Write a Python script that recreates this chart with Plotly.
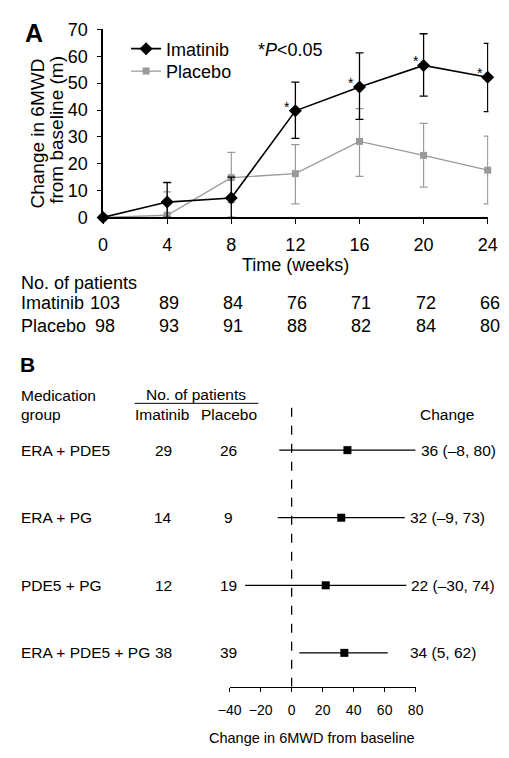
import plotly.graph_objects as go

# ---------------- Panel A data ----------------
weeks = [0, 4, 8, 12, 16, 20, 24]
imatinib_mean = [0, 5.7, 7.2, 39.7, 48.6, 56.6, 52.2]
imatinib_upper = [0, 13, 15, 50.4, 61.3, 68.4, 64.8]
imatinib_lower = [0, 0, 0, 29.4, 36.5, 45.2, 39.4]
placebo_mean = [0, 0.8, 14.8, 16.3, 28.3, 23.1, 17.6]
placebo_upper = [0, 9.5, 24.2, 27.1, 40.5, 35.0, 30.3]
placebo_lower = [0, 0, 5.5, 5.0, 15.3, 11.3, 5.0]
significant = [False, False, False, True, True, True, True]
imatinib_n = [103, 89, 84, 76, 71, 72, 66]
placebo_n = [98, 93, 91, 88, 82, 84, 80]
y_ticks = [0, 10, 20, 30, 40, 50, 60, 70]

# ---------------- Panel B data ----------------
groups = ["ERA + PDE5", "ERA + PG", "PDE5 + PG", "ERA + PDE5 + PG"]
n_imatinib = [29, 14, 12, 38]
n_placebo = [26, 9, 19, 39]
change = [36, 32, 22, 34]
ci_low = [-8, -9, -30, 5]
ci_high = [80, 73, 74, 62]
forest_ticks = [-40, -20, 0, 20, 40, 60, 80]

FONT = "Liberation Sans, Arial, Helvetica, sans-serif"
W, H = 509, 758
GRAY = "#9a9a9a"


def px_x(p):
    return p / W


def px_y(p):
    return 1 - p / H


def note(text, x, y, size, xref="paper", yref="paper", xanchor="center", **kw):
    d = dict(text=text, x=x, y=y, xref=xref, yref=yref, xanchor=xanchor, yanchor="middle",
             showarrow=False, font=dict(size=size, family=FONT, color="black"))
    d.update(kw)
    return d


fig = go.Figure()

# Panel A traces
fig.add_trace(go.Scatter(
    x=weeks, y=placebo_mean, name="Placebo", mode="lines+markers",
    line=dict(color=GRAY, width=1.3),
    marker=dict(symbol="square", size=7, color=GRAY),
    error_y=dict(type="data", symmetric=False,
                 array=[u - m for u, m in zip(placebo_upper, placebo_mean)],
                 arrayminus=[m - l for m, l in zip(placebo_mean, placebo_lower)],
                 color=GRAY, thickness=1.2, width=4),
    cliponaxis=False, xaxis="x", yaxis="y", legend="legend2",
))
fig.add_trace(go.Scatter(
    x=weeks, y=imatinib_mean, name="Imatinib", mode="lines+markers",
    line=dict(color="black", width=1.6),
    marker=dict(symbol="diamond", size=10, color="black"),
    error_y=dict(type="data", symmetric=False,
                 array=[u - m for u, m in zip(imatinib_upper, imatinib_mean)],
                 arrayminus=[m - l for m, l in zip(imatinib_mean, imatinib_lower)],
                 color="black", thickness=1.3, width=4),
    cliponaxis=False, xaxis="x", yaxis="y", legend="legend",
))

# Panel B forest
rows = list(range(len(groups), 0, -1))
fig.add_trace(go.Scatter(
    x=change, y=rows, mode="markers", showlegend=False,
    marker=dict(symbol="square", size=8, color="black"),
    error_x=dict(type="data", symmetric=False,
                 array=[h - c for h, c in zip(ci_high, change)],
                 arrayminus=[c - l for c, l in zip(change, ci_low)],
                 color="black", thickness=1.2, width=0),
    cliponaxis=False, xaxis="x2", yaxis="y2",
))

annotations = []
annotations.append(note("<b>A</b>", px_x(23), px_y(24), 25))
annotations.append(note("<b>B</b>", px_x(16), px_y(364), 21))
annotations.append(note("Change in 6MWD", px_x(27), px_y(127), 19, textangle=-90))
annotations.append(note("from baseline (m)", px_x(47), px_y(123), 19, textangle=-90))
annotations.append(note("*<i>P</i>&lt;0.05", px_x(255), px_y(41), 18, xanchor="left"))
annotations.append(note("Time (weeks)", 12, px_y(262), 18, xref="x"))
for w, m, s in zip(weeks, imatinib_mean, significant):
    if s:
        annotations.append(note("*", w, m, 14, xref="x", yref="y", xshift=-8, yshift=4))
annotations.append(note("No. of patients", px_x(7), px_y(280), 18, xanchor="left"))
annotations.append(note("Imatinib", px_x(7), px_y(301), 18, xanchor="left"))
annotations.append(note("Placebo", px_x(7), px_y(325), 18, xanchor="left"))
for w, a, b in zip(weeks, imatinib_n, placebo_n):
    annotations.append(note(str(a), w, px_y(301), 18, xref="x", xshift=2))
    annotations.append(note(str(b), w, px_y(325), 18, xref="x", xshift=2))

BF = 15.5
annotations.append(note("Medication", px_x(7), px_y(396), BF, xanchor="left"))
annotations.append(note("group", px_x(7), px_y(415), BF, xanchor="left"))
annotations.append(note("No. of patients", px_x(192), px_y(395), BF))
annotations.append(note("Imatinib", px_x(156), px_y(415), BF))
annotations.append(note("Placebo", px_x(226), px_y(415), BF))
annotations.append(note("Change", px_x(454), px_y(415), BF))
for r, g, ni, npl, c, lo, hi in zip(rows, groups, n_imatinib, n_placebo, change, ci_low, ci_high):
    annotations.append(note(g, px_x(7), r, BF, yref="y2", xanchor="left"))
    annotations.append(note(str(ni), px_x(158), r, BF, yref="y2"))
    annotations.append(note(str(npl), px_x(226), r, BF, yref="y2"))
    lab = f"{c} ({lo}, {hi})".replace("-", "\u2013")
    annotations.append(note(lab, max(hi, 73), r, BF, xref="x2", yref="y2", xanchor="left", xshift=3))
annotations.append(note("Change in 6MWD from baseline", px_x(313), px_y(748), 14.5))

shapes = [
    dict(type="line", xref="paper", yref="paper", x0=px_x(128), x1=px_x(257),
         y0=px_y(404), y1=px_y(404), line=dict(color="black", width=1)),
    dict(type="line", xref="x2", yref="y2", x0=0, x1=0, y0=0.5, y1=4.75,
         line=dict(color="black", width=1.3, dash="dash")),
]

legend_common = dict(xanchor="left", yanchor="middle", bgcolor="rgba(0,0,0,0)",
                     font=dict(size=18, family=FONT, color="black"), itemwidth=30)

fig.update_layout(
    width=W, height=H, autosize=False,
    margin=dict(l=0, r=0, t=0, b=0),
    paper_bgcolor="white", plot_bgcolor="white",
    font=dict(family=FONT, color="black", size=18),
    showlegend=True,
    legend=dict(x=px_x(119), y=px_y(40), **legend_common),
    legend2=dict(x=px_x(119), y=px_y(63), **legend_common),
    xaxis=dict(domain=[px_x(95), px_x(497)], range=[0, 24.05], tickvals=weeks,
               showgrid=False, zeroline=False, showline=True, linecolor="black", linewidth=1.5,
               ticks="outside", ticklen=5, tickwidth=1.3, tickcolor="black",
               tickfont=dict(size=18, family=FONT), ticklabelstandoff=5, anchor="y"),
    yaxis=dict(domain=[px_y(213), px_y(20)], range=[0, 70], tickvals=y_ticks,
               showgrid=False, zeroline=False, showline=True, linecolor="black", linewidth=1.5,
               ticks="outside", ticklen=4, tickwidth=1.3, tickcolor="black",
               tickfont=dict(size=18, family=FONT), ticklabelstandoff=6, anchor="x"),
    xaxis2=dict(domain=[px_x(227), px_x(421)], range=[-40, 80], tickvals=forest_ticks,
                showgrid=False, zeroline=False, showline=True, linecolor="black", linewidth=1.3,
                ticks="outside", ticklen=4, tickwidth=1.2, tickcolor="black",
                tickfont=dict(size=14, family=FONT), ticklabelstandoff=6, anchor="y2"),
    yaxis2=dict(domain=[px_y(695), px_y(400)], range=[0.5, 4.75], visible=False, anchor="x2"),
    annotations=annotations,
    shapes=shapes,
)

fig.write_html("out.html", config={"displayModeBar": False},
               post_script="document.body.style.margin='0';document.body.style.padding='0';")
